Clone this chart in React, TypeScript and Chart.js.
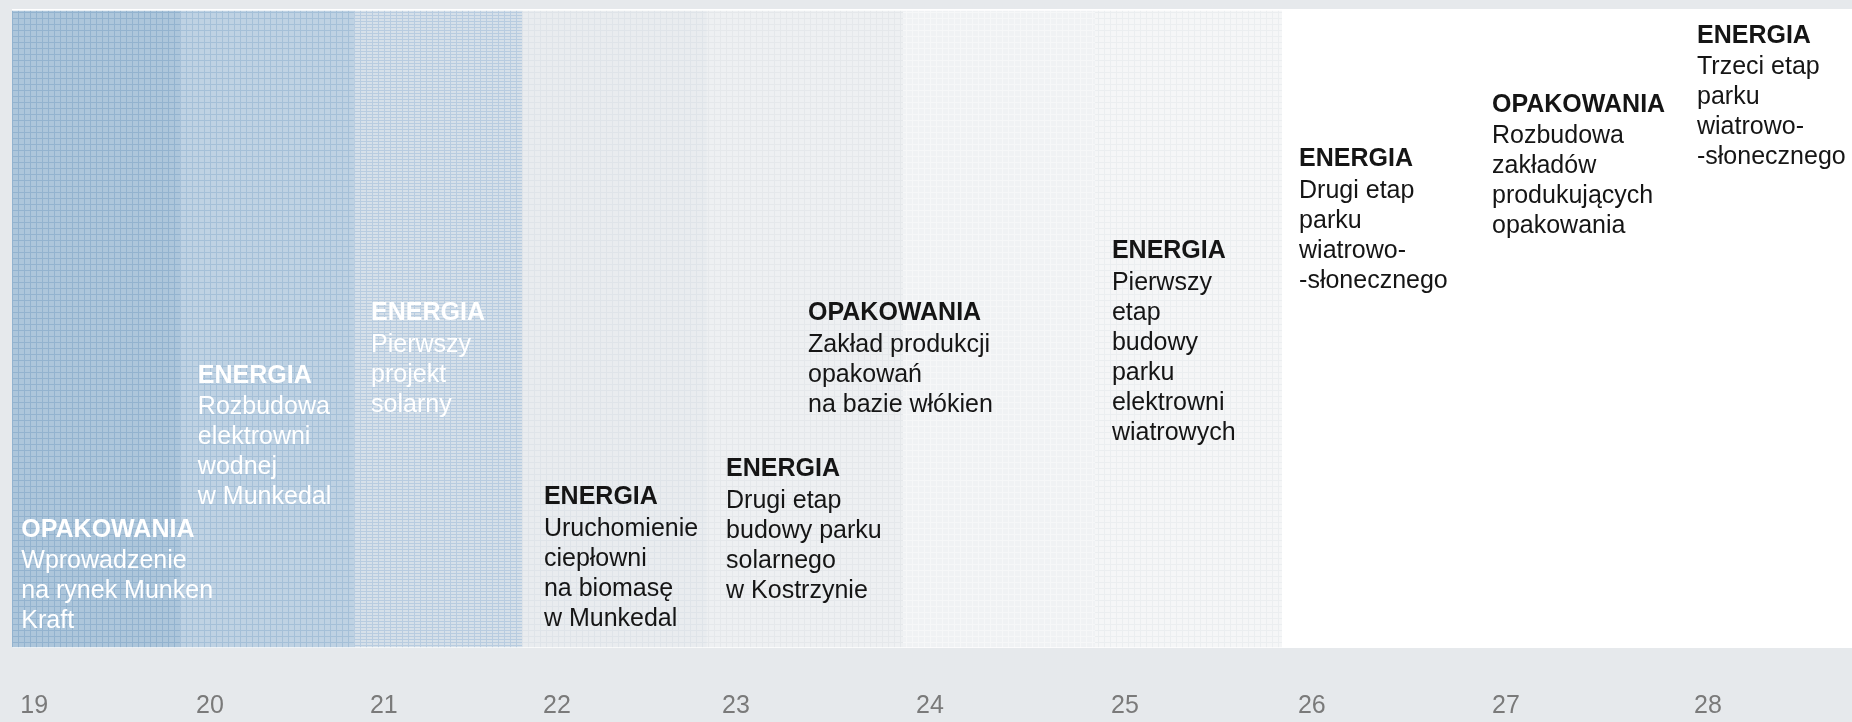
import React, { useEffect, useRef } from 'react';
import { Chart, registerables } from 'chart.js';

Chart.register(...registerables);

// ---- Data ----
// x axis: timeline in years (0 = start of the 2019 column); tick labels are the years
const years = ['19', '20', '21', '22', '23', '24', '25', '26', '27', '28'];
const yearTicks = [0.045, 0.99, 1.926, 2.857, 3.82, 4.864, 5.913, 6.919, 7.963, 9.05];

// shaded year bands (start/end on the timeline)
const bandYears = ['19', '20', '21', '22', '23', '24', '25'];
const bandEdges = [0, 0.904, 1.84, 2.744, 3.739, 4.794, 5.827, 6.833];

// milestones: position on the timeline, level (0–100) of the heading
const milestonePos = [0.05, 1.0, 1.932, 2.862, 3.842, 4.283, 5.918, 6.925, 7.963, 9.066];
const milestoneLevel = [17.4, 41.5, 51.3, 22.5, 26.9, 51.3, 61.0, 75.4, 83.9, 94.7];
const milestoneSector = [
  'OPAKOWANIA', 'ENERGIA', 'ENERGIA', 'ENERGIA', 'ENERGIA',
  'OPAKOWANIA', 'ENERGIA', 'ENERGIA', 'OPAKOWANIA', 'ENERGIA',
];
const milestoneText = [
  ['Wprowadzenie', 'na rynek Munken', 'Kraft'],
  ['Rozbudowa', 'elektrowni', 'wodnej', 'w Munkedal'],
  ['Pierwszy', 'projekt', 'solarny'],
  ['Uruchomienie', 'ciepłowni', 'na biomasę', 'w Munkedal'],
  ['Drugi etap', 'budowy parku', 'solarnego', 'w Kostrzynie'],
  ['Zakład produkcji', 'opakowań', 'na bazie włókien'],
  ['Pierwszy', 'etap', 'budowy', 'parku', 'elektrowni', 'wiatrowych'],
  ['Drugi etap', 'parku', 'wiatrowo-', '-słonecznego'],
  ['Rozbudowa', 'zakładów', 'produkujących', 'opakowania'],
  ['Trzeci etap', 'parku', 'wiatrowo-', '-słonecznego'],
];
const milestoneDone = [true, true, true, false, false, false, false, false, false, false];

// ---- Styles ----
const FONT = '"Liberation Sans", Arial, Helvetica, sans-serif';
const PAGE_BG = '#e6e9ec';
const bandFill = ['#adc6db', '#bfd2e3', '#d6e0e9', '#e9ecef', '#eef0f2', '#f0f2f4', '#f5f6f7'];
const bandLine = ['#93b3cf', '#a5c0d8', '#b8cce0', '#dfe4e9', '#e5e8eb', '#f6f7f8', '#ebeef0'];
const bandStepY = [6, 6, 3, 6, 6, 6, 6];

function makePattern(base: string, line: string, stepX: number, stepY: number) {
  const c = document.createElement('canvas');
  c.width = stepX;
  c.height = stepY;
  const g = c.getContext('2d')!;
  g.fillStyle = base;
  g.fillRect(0, 0, stepX, stepY);
  g.fillStyle = line;
  g.fillRect(0, 0, stepX, 1);
  g.fillRect(0, 0, 1, stepY);
  return g.createPattern(c, 'repeat')!;
}

const panelPlugin = {
  id: 'panel',
  beforeDraw(chart: any) {
    const { ctx, chartArea, width, height } = chart;
    ctx.save();
    ctx.fillStyle = PAGE_BG;
    ctx.fillRect(0, 0, width, height);
    ctx.fillStyle = '#ffffff';
    ctx.fillRect(chartArea.left, chartArea.top, chartArea.right - chartArea.left, chartArea.bottom - chartArea.top);
    ctx.restore();
  },
};

const milestonePlugin = {
  id: 'milestones',
  afterDatasetsDraw(chart: any) {
    const { ctx } = chart;
    const xs = chart.scales.x;
    const ls = chart.scales.level;
    ctx.save();
    ctx.textAlign = 'left';
    ctx.textBaseline = 'alphabetic';
    milestoneSector.forEach((sector, i) => {
      const x = xs.getPixelForValue(milestonePos[i]);
      const y = ls.getPixelForValue(milestoneLevel[i]);
      ctx.fillStyle = milestoneDone[i] ? '#ffffff' : '#151515';
      ctx.font = `bold 25px ${FONT}`;
      ctx.fillText(sector, x, y);
      ctx.font = `25px ${FONT}`;
      milestoneText[i].forEach((line, k) => {
        ctx.fillText(line, x, y + 31.5 + 30 * k);
      });
    });
    ctx.restore();
  },
};

export default function App() {
  const ref = useRef<HTMLCanvasElement | null>(null);

  useEffect(() => {
    const canvas = ref.current;
    if (!canvas) return;
    const patterns = bandYears.map((_, i) => makePattern(bandFill[i], bandLine[i], 6, bandStepY[i]));
    const datasets = bandYears.map((y, i) => ({
      label: y,
      data: [[bandEdges[i], bandEdges[i + 1]]],
      backgroundColor: patterns[i],
      borderColor: '#ffffff',
      borderWidth: { top: 2, bottom: 1, left: 0, right: 0 },
      borderSkipped: false,
      barPercentage: 1,
      categoryPercentage: 1,
      grouped: false,
    }));

    const chart = new Chart(canvas, {
      type: 'bar',
      data: { labels: ['2019–2028'], datasets: datasets as any },
      plugins: [panelPlugin, milestonePlugin],
      options: {
        indexAxis: 'y',
        animation: false,
        responsive: false,
        maintainAspectRatio: false,
        events: [],
        layout: { padding: { left: 12, top: 9, right: 0, bottom: 0 } },
        plugins: { legend: { display: false }, tooltip: { enabled: false } },
        scales: {
          x: {
            type: 'linear',
            position: 'bottom',
            min: 0,
            max: 9.9,
            grid: { display: false, drawTicks: true, tickLength: 40 },
            border: { display: false },
            ticks: {
              align: 'start',
              autoSkip: false,
              maxRotation: 0,
              minRotation: 0,
              padding: 3,
              color: '#7a7a7a',
              font: { family: FONT, size: 25 },
              callback: (_v: any, index: number) => years[index],
            },
            afterBuildTicks: (axis: any) => {
              axis.ticks = yearTicks.map((v) => ({ value: v }));
            },
            afterFit: (axis: any) => {
              axis.height = 74;
            },
          },
          y: { type: 'category', display: false, offset: true },
          level: {
            type: 'linear',
            display: false,
            position: 'left',
            min: 0,
            max: 100,
            offset: false,
            grid: { offset: false },
          },
        },
      } as any,
    });
    return () => chart.destroy();
  }, []);

  return (
    <div style={{ position: 'fixed', left: 0, top: 0, width: 1852, height: 722, background: PAGE_BG }}>
      <canvas ref={ref} width={1852} height={722} style={{ display: 'block' }} />
    </div>
  );
}
